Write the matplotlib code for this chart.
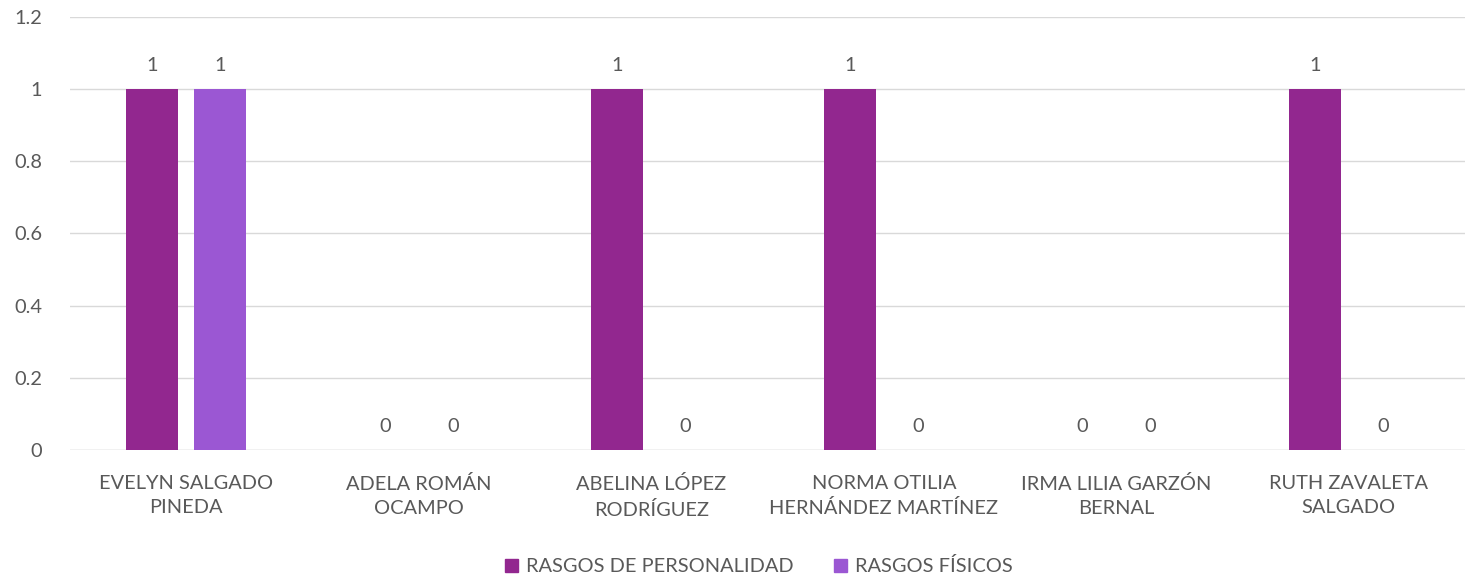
import matplotlib
matplotlib.use("Agg")
import matplotlib.pyplot as plt
import numpy as np
from matplotlib.patches import Patch

categories = ["EVELYN SALGADO\nPINEDA", "ADELA ROMÁN\nOCAMPO", "ABELINA LÓPEZ\nRODRÍGUEZ",
              "NORMA OTILIA\nHERNÁNDEZ MARTÍNEZ", "IRMA LILIA GARZÓN\nBERNAL", "RUTH ZAVALETA\nSALGADO"]
personalidad = [1, 0, 1, 1, 0, 1]
fisicos = [1, 0, 0, 0, 0, 0]
series_names = ["RASGOS DE PERSONALIDAD", "RASGOS FÍSICOS"]
colors = ["#92278F", "#9B57D3"]
yticks = [0, 0.2, 0.4, 0.6, 0.8, 1, 1.2]
ytick_labels = ["0", "0.2", "0.4", "0.6", "0.8", "1", "1.2"]

plt.rcParams['font.family'] = ['Lato', 'DejaVu Sans']
txt = "#595959"
fs = 14.4

fig = plt.figure(figsize=(14.77, 5.76), dpi=100)
ax = fig.add_axes([70 / 1477, 1 - 450 / 576, 1395 / 1477, 433 / 576])

x = np.arange(len(categories))
w = 0.223
off = 0.146
for vals, dx, c in [(personalidad, -off, colors[0]), (fisicos, off, colors[1])]:
    ax.bar(x + dx, vals, width=w, color=c, zorder=3)
    for xi, v in zip(x + dx, vals):
        ax.annotate(f"{v:g}", (xi, v), xytext=(0, 17), textcoords="offset points",
                    ha="center", va="center", fontsize=fs, color=txt)

ax.set_xlim(-0.5, len(categories) - 0.5)
ax.set_ylim(0, 1.2)
ax.set_yticks(yticks)
ax.set_yticklabels(ytick_labels, fontsize=fs, color=txt)
ax.set_xticks(x)
ax.set_xticklabels(categories, fontsize=fs, color=txt, linespacing=1.5)
ax.tick_params(axis="x", length=0, pad=18)
ax.tick_params(axis="y", length=0, pad=20)
ax.yaxis.grid(True, color="#D9D9D9", linewidth=1, zorder=0)
for s in ax.spines.values():
    s.set_visible(False)
ax.axhline(0, color="#D9D9D9", linewidth=1, zorder=2)

handles = [Patch(color=colors[0]), Patch(color=colors[1])]
fig.legend(handles, series_names, loc="center", bbox_to_anchor=(0.514, 0.017),
           ncol=2, frameon=False, fontsize=fs, labelcolor=txt,
           handlelength=0.65, handleheight=0.65, handletextpad=0.4, columnspacing=2.0)

fig.savefig("out.png", dpi=100)
